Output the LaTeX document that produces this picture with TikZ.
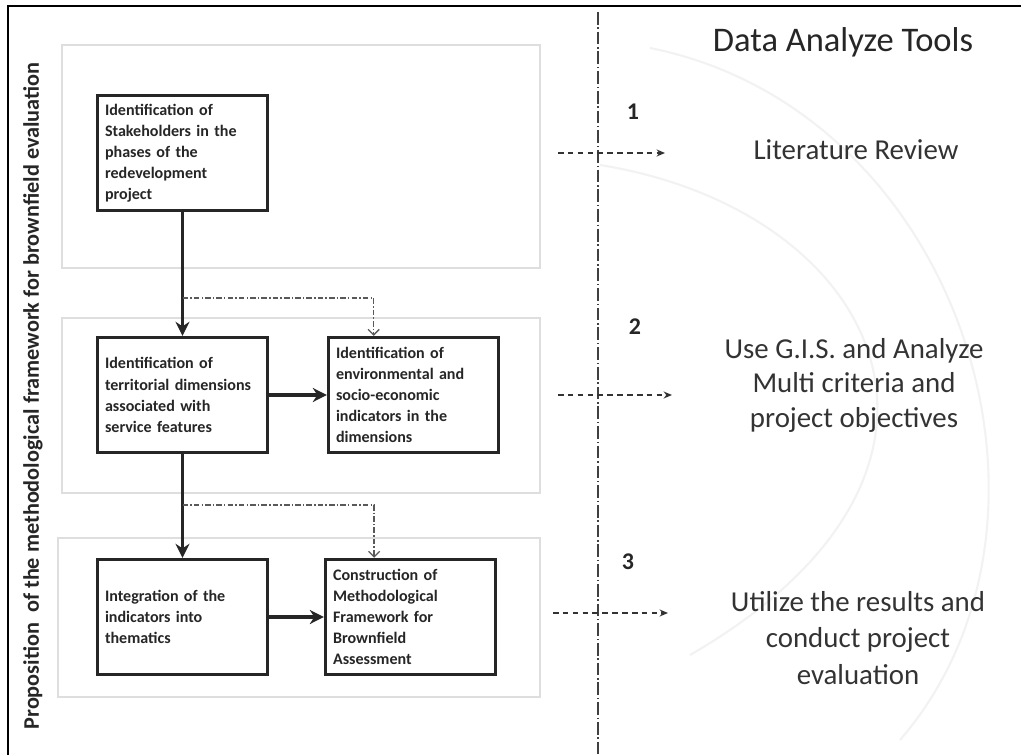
\documentclass[tikz,border=0pt]{standalone}
\usepackage{fontspec}
\setmainfont{Carlito}
\usetikzlibrary{arrows.meta,positioning,calc}
\tikzset{
  stage/.style={rectangle,draw=black!85,line width=2pt,minimum width=121pt,
    minimum height=82pt,text width=110pt,align=left,inner sep=0pt,
    font=\fontsize{11.4}{15}\selectfont\bfseries,text=black!85},
  panel/.style={draw=black!13,line width=1.6pt},
  flow/.style={-{Stealth[length=10pt,width=10pt]},line width=2.2pt,draw=black!85},
  link/.style={-{Straight Barb[length=4pt,width=8pt]},
    dash pattern=on 4pt off 1.5pt on 1pt off 1.5pt,line width=0.9pt,draw=black!65},
  tool/.style={-{Stealth[length=6pt,width=5pt]},dash pattern=on 4pt off 3pt,
    line width=1.2pt,draw=black!80},
  step num/.style={font=\fontsize{17}{17}\selectfont\bfseries,text=black!85},
  tooltxt/.style={align=center,font=\fontsize{20.5}{24.5}\selectfont,text=black!80},
}
\begin{document}
\begin{tikzpicture}[x=0.71pt,y=-0.71pt]
  \useasboundingbox (0,0) rectangle (1021,755);
  % faint background
  \draw[black!5,line width=1.5pt] (650,48) .. controls (960,110) and (1090,520) .. (900,740);
  \draw[black!5,line width=1.5pt] (600,165) .. controls (880,210) and (1010,470) .. (690,655);
  % frame
  \draw[line width=2pt] (8,755) -- (8,6) -- (1021,6);
  \node[rotate=90,font=\fontsize{15.8}{15.8}\selectfont\bfseries,text=black!85] (axis) at (33,396)
    {Proposition\ \ of the methodological framework for brownfield evaluation};
  % stage panels
  \draw[panel] (62,45) rectangle (540,268);
  \draw[panel] (62,318) rectangle (540,493);
  \draw[panel] (58,538) rectangle (540,697);
  % steps
  \node[stage] (stake) at (182.5,153) {Identification of\\Stakeholders in the\\phases of the\\redevelopment\\project};
  \node[stage] (terr) at (182.5,395) {Identification of\\territorial dimensions\\associated with\\service features};
  \node[stage] (indic) at (413.5,395) {Identification of\\environmental and\\socio-economic\\indicators in the\\dimensions};
  \node[stage] (integ) at (182.5,617) {Integration of the\\indicators into\\thematics};
  \node[stage] (constr) at (410.5,617) {Construction of\\Methodological\\Framework for\\Brownfield\\Assessment};
  \draw[flow] (stake) -- (terr);
  \draw[flow] (terr) -- (indic);
  \draw[flow] (terr) -- (integ);
  \draw[flow] (integ) -- (constr);
  \coordinate (j1) at (182.5,298);
  \coordinate (j2) at (182.5,505);
  \draw[link] (j1) -| ($(indic.north west)!0.27!(indic.north east)$);
  \draw[link] (j2) -| ($(constr.north west)!0.29!(constr.north east)$);
  % tools side
  \draw[dash pattern=on 9pt off 2pt on 1pt off 2pt,line width=0.9pt,black!75] (598,12) -- (598,755);
  \node[font=\fontsize{24.5}{24.5}\selectfont,text=black!85] (head) at (843,42) {Data Analyze Tools};
  \node[step num] (n1) at (633,112) {1};
  \node[step num] (n2) at (635,327) {2};
  \node[step num] (n3) at (628,562) {3};
  \node[tooltxt] (lit) at (856,150) {Literature Review};
  \node[tooltxt] (gis) at (854,385) {Use G.I.S. and Analyze\\Multi criteria and\\project objectives};
  \node[tooltxt,font=\fontsize{20.5}{26}\selectfont] (util) at (858,638) {Utilize the results and\\conduct project\\evaluation};
  \coordinate (a1) at (558,153);
  \coordinate (a2) at (558,395);
  \coordinate (a3) at (553,613);
  \draw[tool] (a1) -- ++(107,0);
  \draw[tool] (a2) -- ++(114,0);
  \draw[tool] (a3) -- ++(115,0);
\end{tikzpicture}
\end{document}
